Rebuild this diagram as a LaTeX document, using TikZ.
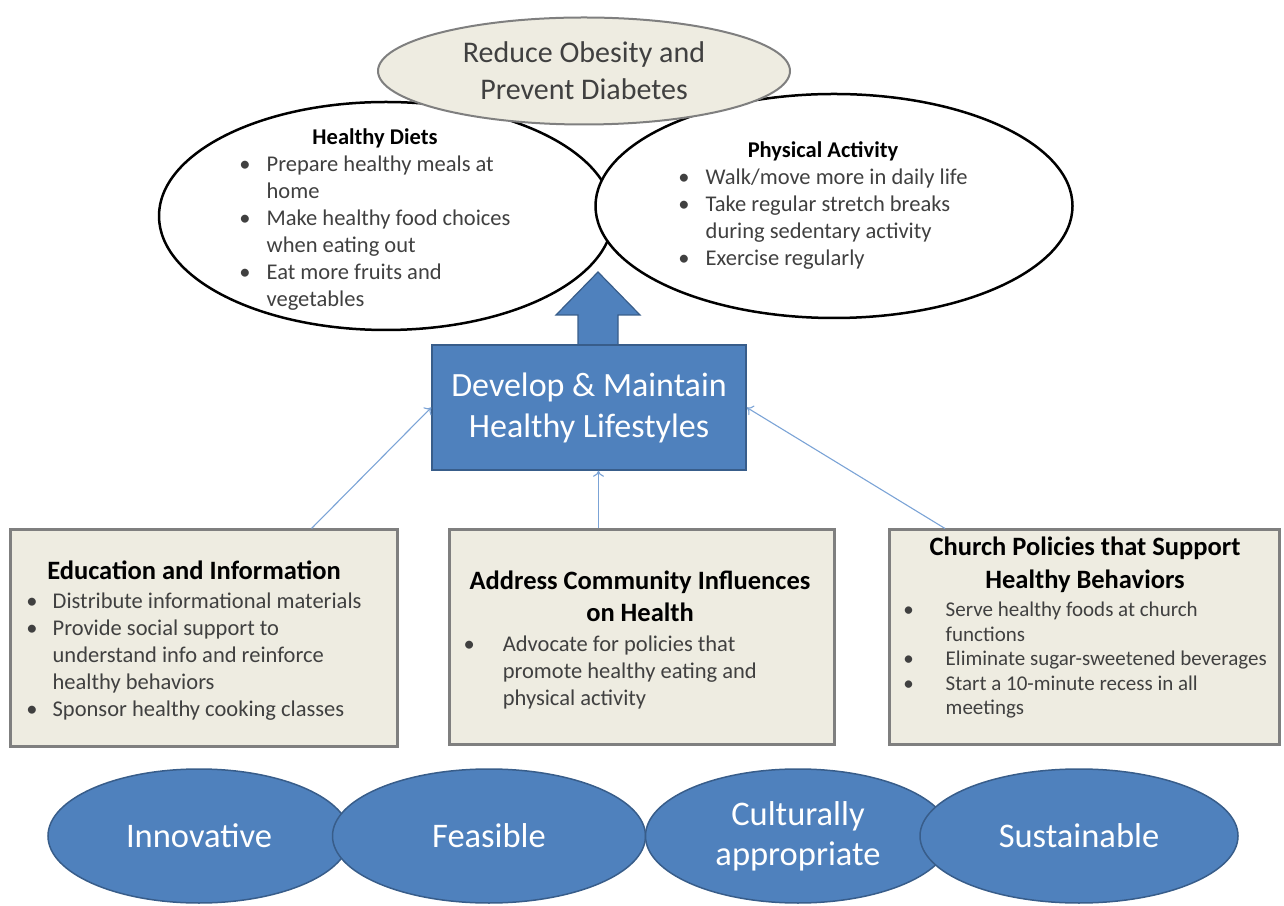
\documentclass[tikz,border=0pt]{standalone}
\usepackage{fontspec}
\setmainfont{Carlito}
\usepackage{xcolor}
\usetikzlibrary{arrows, arrows.meta, shapes.geometric}
\definecolor{boxblue}{HTML}{4F81BD}
\definecolor{boxblueline}{HTML}{385D8A}
\definecolor{linkblue}{HTML}{7BA3D6}
\definecolor{paper}{HTML}{EEECE1}
\definecolor{paperline}{HTML}{7F7F7F}
\definecolor{itemgray}{HTML}{404040}

\begin{document}
\begin{tikzpicture}[x=1pt, y=1pt]
        \tikzstyle{Goal} = [ellipse, draw=paperline, line width=2pt, fill=paper, inner sep=0pt,
                            align=center, text=itemgray, font=\fontsize{30}{37}\selectfont]
        \tikzstyle{Behav} = [ellipse, draw=black, line width=2.5pt, fill=white, inner sep=0pt]
        \tikzstyle{Core} = [rectangle, draw=boxblueline, line width=1.5pt, fill=boxblue, text=white,
                            align=center, font=\fontsize{34}{41}\selectfont]
        \tikzstyle{Strat} = [rectangle, draw=paperline, line width=3pt, fill=paper]
        \tikzstyle{Items} = [inner sep=0pt, text=itemgray]
        \tikzstyle{Trait} = [ellipse, draw=boxblueline, line width=1.5pt, fill=boxblue, text=white,
                             align=center, inner sep=0pt, minimum height=134pt,
                             font=\fontsize{34.5}{40}\selectfont]
        \tikzstyle{Link} = [-{To[length=6pt, width=11pt]}, draw=linkblue, line width=1.1pt]
        \useasboundingbox (0,0) rectangle (1284,905);

        % behaviours under the goal
        \node[Behav, minimum width=454pt, minimum height=228pt] (diets) at (386,689) {};
        \node[Behav, minimum width=477pt, minimum height=224pt] (active) at (834,699) {};
        \node[Goal, minimum width=412pt, minimum height=107pt] (goal) at (584,834)
            {Reduce Obesity and\\Prevent Diabetes};
        \node[Items, font=\fontsize{22.5}{27}\selectfont] (dietst) at (375,685) {%
            \begin{tabular}{@{}l@{\hspace{16pt}}l@{}}
            \multicolumn{2}{c}{\color{black}\bfseries Healthy Diets}\\
            \textbullet & Prepare healthy meals at\\
                        & home\\
            \textbullet & Make healthy food choices\\
                        & when eating out\\
            \textbullet & Eat more fruits and\\
                        & vegetables
            \end{tabular}};
        \node[Items, font=\fontsize{22.5}{27}\selectfont] (activet) at (823,699) {%
            \begin{tabular}{@{}l@{\hspace{16pt}}l@{}}
            \multicolumn{2}{c}{\color{black}\bfseries Physical Activity}\\
            \textbullet & Walk/move more in daily life\\
            \textbullet & Take regular stretch breaks\\
                        & during sedentary activity\\
            \textbullet & Exercise regularly
            \end{tabular}};

        % lifestyle box and big arrow
        \coordinate (lift) at (598,560);
        \filldraw[fill=boxblue, draw=boxblueline, line width=1.2pt]
            (lift) ++(-20,0) -- ++(0,30) -- ++(-22,0) -- ++(42,43) -- ++(42,-43)
            -- ++(-22,0) -- ++(0,-30) -- cycle;
        \node[Core, minimum width=314pt, minimum height=125pt] (dev) at (589,497.5)
            {Develop \& Maintain\\Healthy Lifestyles};

        % strategies
        \node[Strat, minimum width=387pt, minimum height=216pt] (edu) at (203.5,267) {};
        \node[Strat, minimum width=385pt, minimum height=214pt] (comm) at (641.5,268) {};
        \node[Strat, minimum width=390pt, minimum height=214pt] (church) at (1084,268) {};
        \node[Items, font=\fontsize{22.5}{27}\selectfont] (edut) at (194,262) {%
            \begin{tabular}{@{}l@{\hspace{15pt}}l@{}}
            \multicolumn{2}{c}{\color{black}\fontsize{26.5}{30}\selectfont\bfseries Education and Information}\\[2pt]
            \textbullet & Distribute informational materials\\
            \textbullet & Provide social support to\\
                        & understand info and reinforce\\
                        & healthy behaviors\\
            \textbullet & Sponsor healthy cooking classes
            \end{tabular}};
        \node[Items, font=\fontsize{22.5}{27}\selectfont] (commt) at (640,263) {%
            \begin{tabular}{@{}l@{\hspace{28pt}}l@{}}
            \multicolumn{2}{c}{\color{black}\fontsize{26.5}{32}\selectfont\bfseries Address Community Influences}\\[5pt]
            \multicolumn{2}{c}{\color{black}\fontsize{26.5}{31}\selectfont\bfseries on Health}\\[3pt]
            \textbullet & Advocate for policies that\\
                        & promote healthy eating and\\
                        & physical activity
            \end{tabular}};
        \node[Items, font=\fontsize{21}{24.5}\selectfont] (churcht) at (1085,275.5) {%
            \begin{tabular}{@{}l@{\hspace{32pt}}l@{}}
            \multicolumn{2}{c}{\color{black}\fontsize{26.5}{32}\selectfont\bfseries Church Policies that Support}\\[7.5pt]
            \multicolumn{2}{c}{\color{black}\fontsize{26.5}{30}\selectfont\bfseries Healthy Behaviors}\\[3.5pt]
            \textbullet & Serve healthy foods at church\\
                        & functions\\
            \textbullet & Eliminate sugar-sweetened beverages\\
            \textbullet & Start a 10-minute recess in all\\
                        & meetings
            \end{tabular}};

        \draw[Link] ([xshift=108pt]edu.north) -- (dev.west);
        \draw[Link] ([xshift=-43pt]comm.north) -- ([xshift=-43pt]comm.north |- dev.south);
        \draw[Link] ([xshift=-139pt]church.north) -- (dev.east);

        % qualities
        \node[Trait, minimum width=302pt] (innov) at (199,69) {Innovative};
        \node[Trait, minimum width=313pt] (feas) at (489,69) {Feasible};
        \node[Trait, minimum width=305pt] (cult) at (798,69) {Culturally\\appropriate};
        \node[Trait, minimum width=318pt] (sust) at (1079,69) {Sustainable};
    \end{tikzpicture}
\end{document}
